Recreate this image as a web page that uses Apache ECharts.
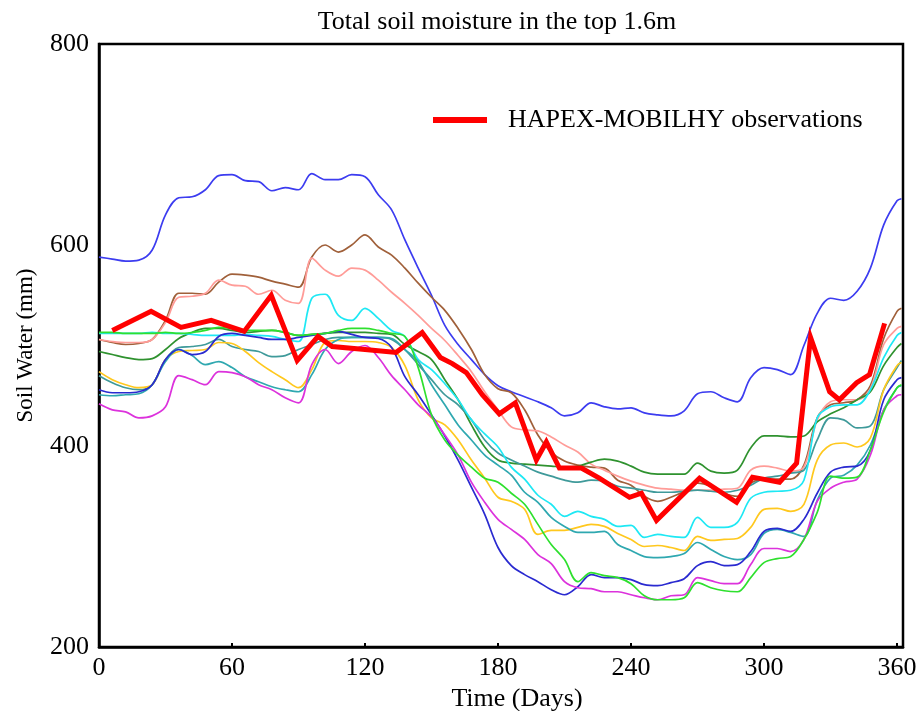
<!DOCTYPE html>
<html><head><meta charset="utf-8">
<script src="https://cdn.jsdelivr.net/npm/echarts@6/dist/echarts.min.js"></script>
<style>html,body{margin:0;padding:0;background:#fff}#c{width:920px;height:711px}</style>
</head><body><div id="c"></div>
<script>
// Day grid for the model runs
const days = [0,6,12,18,24,30,36,42,48,54,60,66,72,78,84,90,96,102,108,114,120,126,132,138,144,150,156,162,168,174,180,186,192,198,204,210,216,222,228,234,240,246,252,258,264,270,276,282,288,294,300,306,312,318,324,330,336,342,348,354,360,362];

// Model runs (mm)
const blueTop = [588,586,584,585,595,630,647,648,655,669,670,664,663,654,657,655,671,665,665,670,668,650,635,605,577,550,520,501,486,471,460,454,449,444,438,430,433,443,439,437,438,433,431,430,435,452,454,448,444,468,478,476,471,500,532,547,545,554,577,620,644,646];
const brown = [506,503,501,502,506,525,552,552,551,563,571,570,568,564,561,558,588,600,593,600,610,598,590,577,562,548,535,517,496,471,457,453,436,411,394,385,381,379,378,366,361,350,345,349,355,363,360,353,350,363,367,367,367,381,428,441,443,446,460,507,534,537];
const pink = [506,504,503,503,506,523,548,549,552,565,560,559,551,555,545,542,587,575,569,577,575,565,553,542,530,517,505,490,474,454,436,419,416,415,409,401,394,382,376,370,365,361,358,357,356,356,356,357,358,376,380,378,375,379,426,444,446,446,457,501,517,519];
const cyan = [512,512,512,512,513,512,512,511,510,510,510,511,510,509,506,504,547,551,530,525,537,527,515,509,486,476,462,446,426,412,399,379,367,351,342,330,335,330,327,320,321,309,312,310,309,329,319,319,324,348,354,355,356,366,428,439,441,441,456,488,510,513];
const darkGreen = [494,491,488,486,487,496,507,513,517,517,515,513,514,515,513,510,511,512,513,513,513,512,511,501,494,486,466,446,421,399,386,383,382,381,380,379,380,384,387,385,380,374,372,372,372,383,375,373,376,398,410,410,409,410,424,432,438,446,454,480,498,502];
const lime = [513,513,512,512,512,513,512,513,515,518,517,515,515,515,513,510,511,512,515,517,517,515,512,509,478,431,406,391,379,368,364,353,342,322,302,287,265,274,271,269,263,251,247,247,249,264,259,256,255,269,284,288,290,307,334,370,368,369,396,434,458,461];
const gold = [474,466,461,458,461,486,494,495,496,503,502,494,483,474,466,458,476,503,505,504,504,503,498,480,446,428,421,406,386,368,349,345,337,312,316,316,319,322,320,313,307,300,301,299,296,310,306,307,308,319,337,338,335,342,386,401,403,399,408,456,480,483];
const tealA = [470,463,458,456,461,486,498,499,501,506,499,496,494,489,490,496,501,506,508,508,508,508,506,496,481,466,451,441,426,406,393,386,380,374,370,366,364,366,365,360,358,356,354,354,355,356,355,354,356,361,368,370,373,376,406,428,426,418,420,456,478,485];
const tealB = [451,450,451,452,461,484,496,490,481,484,478,469,464,459,456,454,471,496,506,508,508,508,507,496,484,461,441,421,406,391,381,371,354,344,329,320,314,314,315,302,296,290,289,290,293,304,297,290,287,292,313,317,314,310,346,368,371,381,401,436,458,460];
const blueLow = [456,453,453,454,461,486,496,491,494,509,512,510,508,506,506,508,510,512,514,511,508,507,498,469,451,431,410,386,359,332,299,281,272,265,257,252,260,272,269,269,267,262,261,264,268,281,285,281,282,295,315,318,315,327,353,374,379,380,396,446,466,468];
const magenta = [442,436,434,428,430,439,470,466,461,474,473,469,461,456,448,443,481,496,482,494,500,488,470,456,441,429,411,391,364,344,327,317,307,292,283,265,259,258,255,255,252,249,247,251,252,269,266,263,263,282,298,298,295,307,345,358,364,367,391,436,450,451];

// HAPEX-MOBILHY observations
const obsDays = [6,23.5,37,50.6,65.5,77.7,89.4,98.8,105.2,120,134,145.8,154,159.4,165.7,172.9,180.6,187.8,197.3,201.8,207.7,217.6,225.7,239.3,244.7,251.5,270.9,287.6,294.8,307,314.7,321,329.6,334,341.8,347.6,354.4];
const obsValues = [515,534,518,525,514,550,485,509,499,496,493,513,488,482,473,451,432,443,386,404,378,378,368,349,353,326,368,344,369,364,383,508,454,446,463,471,522];

const xTicks = [0,60,120,180,240,300,360];
const yTicks = [200,400,600,800];

const runs = [
  ['blueTop', blueTop, '#3c3cf0'],
  ['brown', brown, '#a0603a'],
  ['pink', pink, '#ff9c98'],
  ['darkGreen', darkGreen, '#2f922f'],
  ['tealA', tealA, '#3f9a9a'],
  ['cyan', cyan, '#1ee8f4'],
  ['gold', gold, '#ffc81e'],
  ['tealB', tealB, '#2fa8b0'],
  ['blueLow', blueLow, '#2a2ad0'],
  ['magenta', magenta, '#dc32dc'],
  ['lime', lime, '#2ee02e']
];

const serif = 'Liberation Serif';
const series = runs.map(([name, vals, color]) => ({
  name, type: 'line', data: days.map((d, i) => [d, vals[i]]),
  showSymbol: false, smooth: 0.35, lineStyle: {width: 1.7, color}, itemStyle: {color}, z: 2
}));
series.push({
  name: 'HAPEX-MOBILHY observations', type: 'line',
  data: obsDays.map((d, i) => [d, obsValues[i]]),
  showSymbol: false, lineStyle: {width: 5, color: '#ff0000', join: 'miter'}, itemStyle: {color: '#ff0000'}, z: 5
});

const chart = echarts.init(document.getElementById('c'), null, {renderer: 'canvas'});
chart.setOption({
  animation: false,
  backgroundColor: '#fff',
  title: {text: 'Total soil moisture in the top 1.6m', left: 492, textAlign: 'center', top: 4,
    textStyle: {fontFamily: serif, fontSize: 26, fontWeight: 'normal', color: '#000'}},
  legend: {data: ['HAPEX-MOBILHY observations'], left: 428, top: 102, icon: 'rect', itemWidth: 54, itemHeight: 6,
    itemGap: 0, textStyle: {fontFamily: serif, fontSize: 26, color: '#000', padding: [0, 0, 8, 16]}},
  grid: {left: 99, top: 44, width: 804, height: 603, show: true, borderColor: '#000', borderWidth: 2.5,
    outerBoundsMode: 'none', containLabel: false},
  xAxis: {type: 'value', min: 0, max: 362.7, interval: 60,
    name: 'Time (Days)', nameLocation: 'middle', nameGap: 25,
    nameTextStyle: {fontFamily: serif, fontSize: 26, color: '#000', padding: [0, 0, 0, 32]},
    axisLine: {lineStyle: {color: '#000', width: 2.5}},
    axisTick: {inside: true, length: 4, lineStyle: {color: '#000', width: 2}},
    axisLabel: {fontFamily: serif, fontSize: 26, color: '#000', margin: 8, showMaxLabel: false,
      formatter: v => xTicks.includes(v) ? String(v) : ''},
    splitLine: {show: false}},
  yAxis: {type: 'value', min: 200, max: 800, interval: 200,
    name: 'Soil Water (mm)', nameLocation: 'middle', nameGap: 62,
    nameTextStyle: {fontFamily: serif, fontSize: 23, color: '#000'},
    axisLine: {show: true, lineStyle: {color: '#000', width: 2.5}},
    axisTick: {show: false},
    axisLabel: {fontFamily: serif, fontSize: 26, color: '#000', margin: 10,
      formatter: v => yTicks.includes(v) ? String(v) : ''},
    splitLine: {show: false}},
  series
});
</script></body></html>
